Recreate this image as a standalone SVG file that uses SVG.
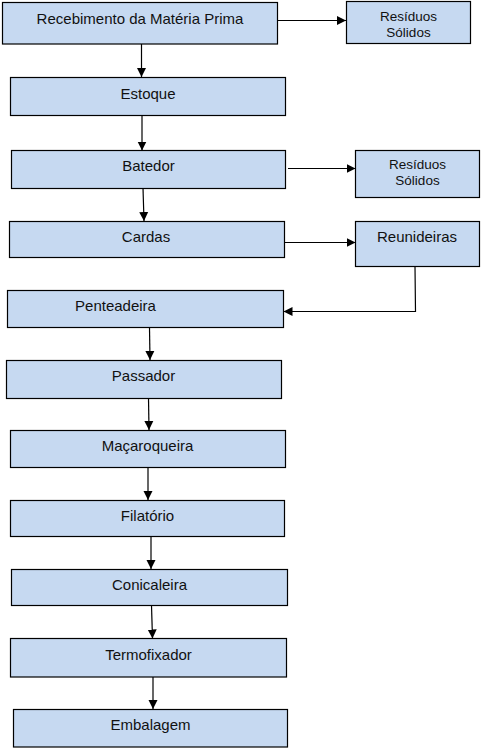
<svg xmlns="http://www.w3.org/2000/svg" width="498" height="752" viewBox="0 0 498 752">
<style>
.box{fill:#c6d9f1;stroke:#000;stroke-width:1.2}
.t{font-family:"Liberation Sans",Arial,sans-serif;font-size:15px;fill:#111;text-anchor:middle}
.s{font-family:"Liberation Sans",Arial,sans-serif;font-size:13.5px;fill:#111;text-anchor:middle}
.c{fill:none;stroke:#000;stroke-width:1.2}
</style>
<defs>
<marker id="ah" markerUnits="userSpaceOnUse" markerWidth="10" markerHeight="10" viewBox="0 0 10 10" refX="9" refY="5" orient="auto">
<path d="M0,0.5 L9,5 L0,9.5 z" fill="#000"/>
</marker>
</defs>
<rect width="498" height="752" fill="#fff"/>
<g id="connectors">
<line class="c" x1="277.5" y1="20.5" x2="346" y2="20.5" marker-end="url(#ah)"/>
<line class="c" x1="141.5" y1="44" x2="141.5" y2="77" marker-end="url(#ah)"/>
<line class="c" x1="142" y1="115" x2="142" y2="150.5" marker-end="url(#ah)"/>
<line class="c" x1="288" y1="168.5" x2="355.5" y2="168.5" marker-end="url(#ah)"/>
<line class="c" x1="143" y1="188" x2="144" y2="221" marker-end="url(#ah)"/>
<line class="c" x1="284.5" y1="242.5" x2="355.5" y2="242.5" marker-end="url(#ah)"/>
<polyline class="c" points="415,266.5 415.5,311.5 283.5,311.5" marker-end="url(#ah)"/>
<line class="c" x1="149.5" y1="327.5" x2="150" y2="360" marker-end="url(#ah)"/>
<line class="c" x1="148.5" y1="398" x2="149" y2="430" marker-end="url(#ah)"/>
<line class="c" x1="148" y1="467.5" x2="148" y2="500" marker-end="url(#ah)"/>
<line class="c" x1="151" y1="537" x2="151" y2="569" marker-end="url(#ah)"/>
<line class="c" x1="151.5" y1="605.5" x2="152.5" y2="638.5" marker-end="url(#ah)"/>
<line class="c" x1="153" y1="677" x2="153" y2="709" marker-end="url(#ah)"/>
</g>
<g id="recebimento"><rect class="box" x="2.5" y="2.5" width="275" height="41.5"/><text class="t" x="140" y="23.5">Recebimento da Matéria Prima</text></g>
<g id="residuos1"><rect class="box" x="346.5" y="1.5" width="124" height="42"/><text class="s" x="408.5" y="20.5">Resíduos</text><text class="s" x="408.5" y="36.5">Sólidos</text></g>
<g id="estoque"><rect class="box" x="10.5" y="77.5" width="275" height="38"/><text class="t" x="148" y="98.5">Estoque</text></g>
<g id="batedor"><rect class="box" x="11.5" y="150.5" width="274" height="38"/><text class="t" x="148.5" y="170.5">Batedor</text></g>
<g id="residuos2"><rect class="box" x="355.5" y="150.5" width="124" height="47"/><text class="s" x="417.5" y="168.5">Resíduos</text><text class="s" x="417.5" y="184.5">Sólidos</text></g>
<g id="cardas"><rect class="box" x="9.5" y="221.5" width="275" height="36"/><text class="t" x="146" y="242">Cardas</text></g>
<g id="reunideiras"><rect class="box" x="355.5" y="221.5" width="124" height="45"/><text class="t" x="417" y="242">Reunideiras</text></g>
<g id="penteadeira"><rect class="box" x="7.5" y="290.5" width="276" height="37"/><text class="t" x="115.5" y="311">Penteadeira</text></g>
<g id="passador"><rect class="box" x="6.5" y="360.5" width="275" height="38"/><text class="t" x="143.5" y="381">Passador</text></g>
<g id="macaroqueira"><rect class="box" x="10.5" y="430.5" width="275" height="37"/><text class="t" x="147.5" y="451">Maçaroqueira</text></g>
<g id="filatorio"><rect class="box" x="10.5" y="500.5" width="274" height="36"/><text class="t" x="147.5" y="521">Filatório</text></g>
<g id="conicaleira"><rect class="box" x="11.5" y="569.5" width="276" height="36"/><text class="t" x="149.5" y="589.5">Conicaleira</text></g>
<g id="termofixador"><rect class="box" x="10.5" y="638.5" width="276" height="38.5"/><text class="t" x="148.5" y="659.5">Termofixador</text></g>
<g id="embalagem"><rect class="box" x="13.5" y="709.5" width="274" height="37.5"/><text class="t" x="150.5" y="729.5">Embalagem</text></g>
</svg>
